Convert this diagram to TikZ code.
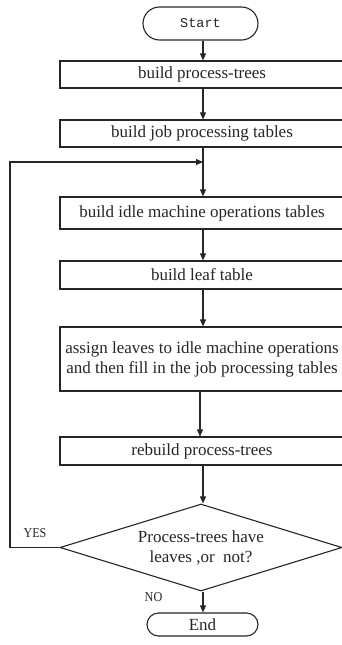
\documentclass[tikz,border=0pt]{standalone}
\usepackage{fontspec}
\setmainfont{Liberation Serif}
\newfontfamily\monofont{Liberation Mono}
\usetikzlibrary{arrows.meta,shapes.geometric,shapes.misc}
\definecolor{ink}{HTML}{262626}
\tikzset{
  x=1pt, y=-1pt,
  every node/.style={text=ink, font=\fontsize{17}{20}\selectfont},
  stepbox/.style={draw=ink, line width=1.1pt, rectangle, minimum width=284pt, inner sep=0pt, align=center},
  term/.style={draw=ink, line width=1.1pt, rounded rectangle, inner sep=0pt},
  decide/.style={draw=ink, line width=1.1pt, diamond, aspect=3.24, minimum width=282pt, minimum height=87pt, inner sep=0pt, align=center},
  flow/.style={draw=ink, line width=1.1pt, -{Triangle[length=7pt,width=6pt]}},
  tag/.style={font=\fontsize{13.5}{15}\selectfont, xscale=0.9}
}
\begin{document}
\begin{tikzpicture}
\useasboundingbox (0,0) rectangle (342,645);
\clip (0,0) rectangle (342,645);
\fill[white] (0,0) rectangle (342,645);

% terminals
\node[term, minimum width=115pt, minimum height=33pt, font=\monofont\fontsize{13.5}{15}\selectfont] (start) at (200.5,23.5) {Start};
\node[term, minimum width=111pt, minimum height=23pt] (end) at (202.5,624.5) {End};

% process steps
\node[stepbox, minimum height=27pt] (b1) at (202,74.5) {build process-trees};
\node[stepbox, minimum height=27pt] (b2) at (202,133.5) {build job processing tables};
\node[stepbox, minimum height=32pt] (b3) at (202,213) {build idle machine operations tables};
\node[stepbox, minimum height=28pt] (b4) at (202,275) {build leaf table};
\node[stepbox, minimum height=64pt] (b5) at (202,359) {assign leaves to idle machine operations\\and then fill in the job processing tables};
\node[stepbox, minimum height=28pt] (b6) at (202,451) {rebuild process-trees};

% decision
\node[decide] (dec) at (201,547.5) {Process-trees have\\leaves ,or\ \ not?};

% loop junction
\coordinate (join) at (203,162);
\coordinate (back) at (10,547.5);

% connectors
\draw[flow] (start.south -| 203,0) -- (b1.north -| 203,0);
\draw[flow] (b1.south -| 203,0) -- (b2.north -| 203,0);
\draw[flow] (b2.south -| 203,0) -- (b3.north -| 203,0);
\draw[flow] (b3.south -| 203,0) -- (b4.north -| 203,0);
\draw[flow] (b4.south -| 203,0) -- (b5.north -| 203,0);
\draw[flow] (b5.south -| 200,0) -- (b6.north -| 200,0);
\draw[flow] (b6.south -| 203,0) -- (dec.north -| 203,0);
\draw[flow] (dec.south -| 203,0) -- (end.north -| 203,0);
\draw[flow] (dec.west) -- (back) |- (join);

% branch labels
\node[tag] (yes) at (35,533) {YES};
\node[tag] (no) at (153.5,597) {NO};
\end{tikzpicture}
\end{document}
